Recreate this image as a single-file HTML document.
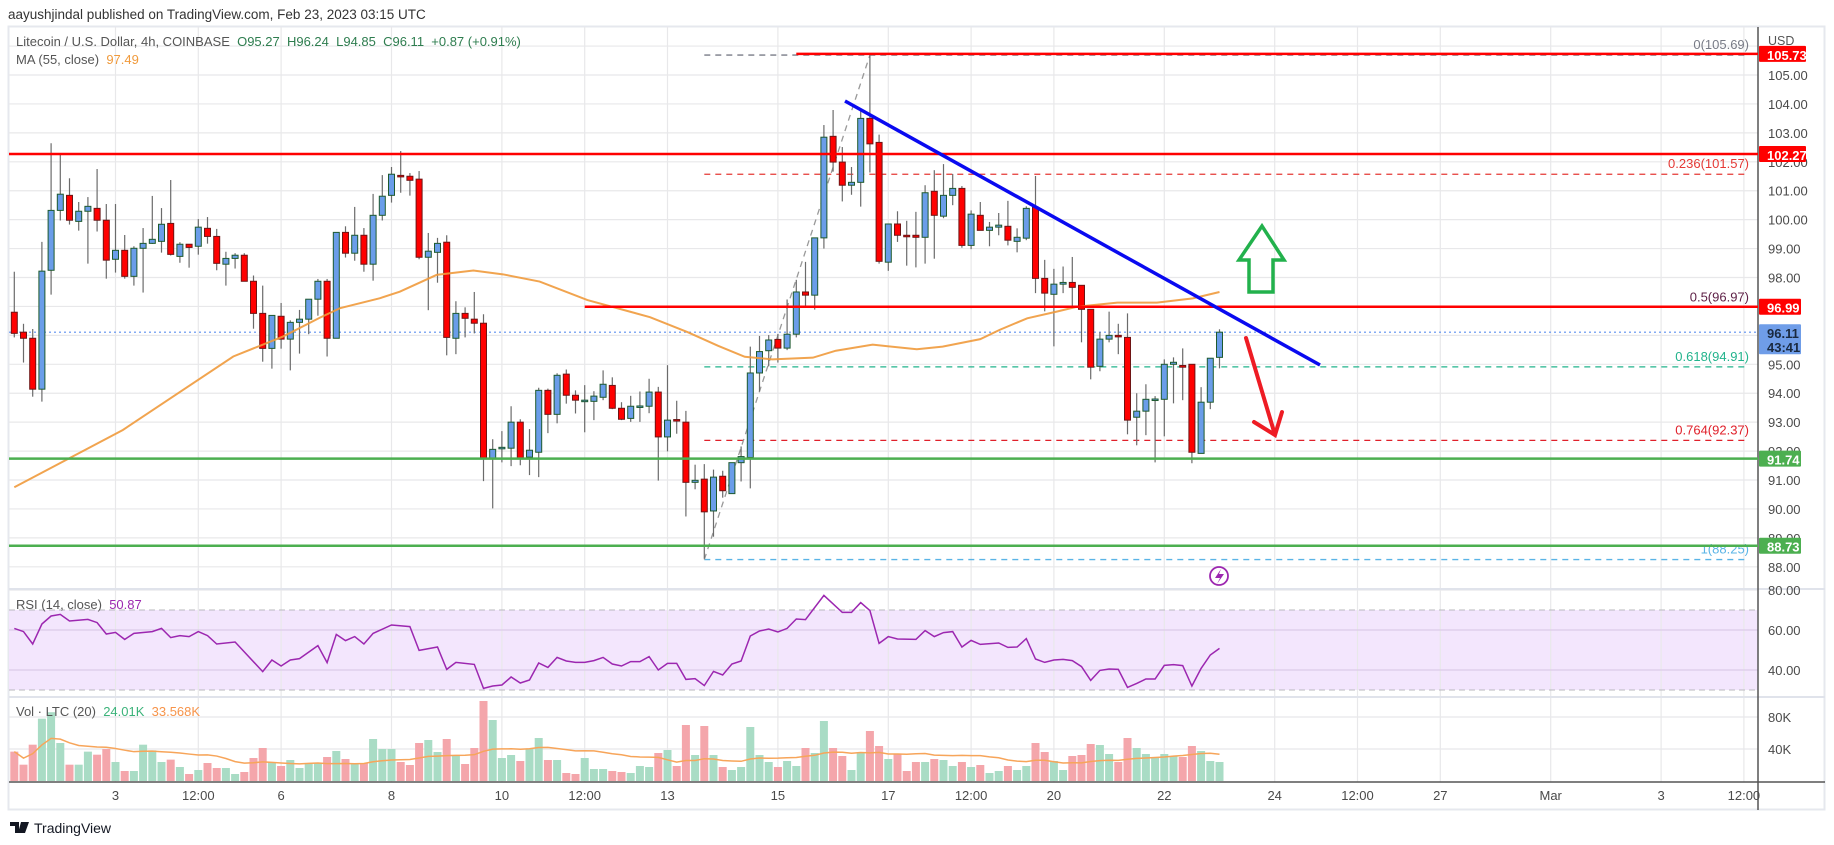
<!DOCTYPE html>
<html><head><meta charset="utf-8"><style>
html,body{margin:0;padding:0;background:#fff;width:1834px;height:845px;overflow:hidden}
svg{display:block;font-family:"Liberation Sans",sans-serif}
</style></head><body>
<svg id="chart" width="1834" height="845" viewBox="0 0 1834 845"></svg>
<script>
// ---- data ----
const opens=[96.80,96.11,95.90,94.14,98.25,100.32,100.84,99.94,100.29,100.39,99.98,98.63,98.94,98.04,99.01,99.18,99.25,99.87,98.73,99.15,99.08,99.70,99.42,98.46,98.66,98.77,97.87,96.76,95.55,96.66,95.87,96.45,96.56,97.25,97.87,95.90,99.56,98.84,99.46,98.46,100.15,100.84,101.53,101.50,101.40,98.70,98.87,99.22,95.90,96.76,96.56,96.42,91.75,92.10,92.10,93.00,91.79,91.96,94.10,93.27,94.66,93.93,93.72,93.72,93.86,94.27,93.48,93.13,93.53,93.55,94.04,92.49,93.09,93.00,90.92,91.03,89.93,91.13,90.53,91.60,91.78,94.70,95.47,95.86,95.56,96.04,97.50,97.39,99.37,102.88,101.99,101.19,101.29,103.50,102.67,98.53,99.85,99.46,99.46,99.39,100.98,100.12,100.84,101.08,99.11,100.15,99.63,99.74,99.77,99.25,99.36,100.43,97.97,97.42,97.77,97.83,97.73,96.90,94.93,95.87,96.00,95.93,93.17,93.38,93.79,93.79,95.00,94.96,95.00,91.92,93.69,95.24];
const highs=[98.20,96.40,96.22,99.23,102.64,102.24,101.43,100.61,100.78,101.75,100.54,100.54,99.47,99.08,99.71,100.82,100.40,101.37,99.22,99.15,100.02,100.09,99.68,98.89,98.84,98.84,98.07,97.72,96.69,97.12,96.52,96.88,97.25,97.95,97.95,99.56,99.77,100.44,99.71,100.89,101.54,101.82,102.37,101.61,101.68,99.54,99.37,99.46,97.18,96.97,97.50,96.73,92.41,92.69,93.55,93.10,92.76,94.19,94.16,94.69,94.82,94.10,94.28,94.07,94.79,94.55,93.69,93.91,94.06,94.50,94.22,94.97,93.74,93.39,91.53,91.55,91.36,91.32,91.60,92.16,95.61,95.98,96.01,96.05,97.24,97.92,98.54,99.37,103.27,103.79,102.51,101.82,103.76,105.68,102.94,99.85,100.29,99.96,100.27,101.19,101.71,101.92,101.58,101.16,100.32,100.61,99.92,100.23,100.65,99.70,100.46,101.51,98.61,98.30,98.38,98.71,97.73,96.90,96.11,96.82,96.40,96.76,94.00,94.31,93.90,95.17,95.24,95.55,95.00,94.21,95.21,96.21];
const lows=[95.93,95.06,93.88,93.71,97.41,99.97,99.83,99.62,98.48,99.59,97.96,98.17,97.96,97.72,97.48,99.16,98.86,98.76,98.51,98.34,98.79,99.17,98.25,97.72,98.31,97.87,96.23,95.09,94.85,95.54,94.79,95.37,96.04,96.68,95.27,95.90,98.69,98.58,98.20,97.89,99.97,100.59,100.93,100.83,98.63,96.87,97.82,95.31,95.35,95.93,96.07,90.96,90.02,91.61,91.48,91.51,91.17,91.10,92.62,92.96,93.64,93.30,92.65,93.07,93.76,93.45,93.07,93.01,93.01,93.31,90.98,91.99,92.60,89.74,90.68,88.28,89.04,90.39,90.53,90.95,90.71,94.06,94.93,95.06,95.49,95.93,96.98,96.89,99.00,101.66,100.63,100.86,100.45,101.63,98.48,98.23,99.23,98.41,98.35,98.48,98.65,100.05,100.50,99.03,98.98,99.63,99.08,99.46,99.11,98.87,99.29,97.46,96.83,95.62,97.46,96.97,95.76,94.48,94.76,95.76,95.35,92.58,92.20,92.55,91.61,92.51,93.65,93.76,91.58,91.92,93.45,94.86];
const closes=[96.07,95.90,94.14,98.22,100.32,100.88,99.98,100.29,100.46,99.98,98.60,98.94,98.04,99.01,99.18,99.32,99.84,98.80,99.15,99.04,99.74,99.42,98.49,98.66,98.77,97.87,96.76,95.55,96.69,95.87,96.45,96.56,97.25,97.87,95.90,99.56,98.84,99.46,98.46,100.15,100.81,101.57,101.50,101.36,98.70,98.91,99.18,95.93,96.76,96.59,96.42,91.75,92.06,92.13,93.00,91.75,92.03,94.10,93.27,94.62,93.93,93.76,93.76,93.90,94.31,93.48,93.10,93.55,93.56,94.04,92.49,93.07,93.06,90.92,90.99,89.90,91.10,90.63,91.60,91.81,94.70,95.44,95.84,95.56,96.04,97.50,97.39,99.37,102.85,101.99,101.19,101.29,103.50,102.62,98.56,99.85,99.46,99.42,99.39,100.93,100.15,100.84,101.08,99.11,100.19,99.63,99.74,99.81,99.29,99.39,100.39,97.97,97.46,97.77,97.83,97.66,96.90,94.90,95.87,96.00,95.97,93.07,93.38,93.79,93.80,95.00,95.07,94.90,91.96,93.69,95.21,96.11];
const volumes=[36.7,20.4,45.4,77.9,86,47.5,20.4,20.4,36.7,32.9,40,23.75,12.5,12.5,45.4,38.3,23.75,26.7,17.5,8.75,13.75,22.5,16.25,16.25,8.75,11.25,28.75,41.25,23.75,18.75,26.25,16.25,22.5,22.5,30,37.5,27.5,22.5,22.5,52.5,40,40,23.75,20,47.5,51.25,36.25,52.5,31.25,21.25,41.25,100,76.25,28.75,32.5,25,40,53.75,26.25,26.25,10,8.75,28.75,15,15,12.5,11.25,10,18.75,17.5,35,38.75,18.75,70,32.5,68.75,32.5,17.5,13.75,17.5,67.5,32.5,23.75,17.5,25,18.75,41.25,35,75,41.25,31.25,13.75,36.25,62.5,43.75,27.5,33.75,12.5,23.75,23.75,27.5,26.25,18.75,23.75,17.5,20,10,12.5,18.75,13.75,18.75,47.5,36.25,25,13.75,31.25,32.5,46.25,45,33.75,23.75,53.75,41.25,33.75,28.75,33.75,31.25,30,43.75,37.5,25,23.75];
const maIdx=[0,11.8,23.8,29.2,33.2,35.4,39.7,41.9,45.9,49.9,53.1,57.1,62.3,66.9,69.1,73.2,76.5,79.4,82.4,86.8,89.3,93.3,98.1,100.9,105,107.1,110.1,113.3,115.5,119.9,124.2,128.1,131];
const maVal=[90.75,92.73,95.27,95.96,96.61,96.94,97.28,97.51,98.09,98.24,98.11,97.86,97.22,96.82,96.63,96.11,95.64,95.26,95.17,95.23,95.47,95.68,95.52,95.61,95.87,96.19,96.59,96.82,96.99,97.13,97.13,97.28,97.50];
const rsiIdx=[0,1,2,3,4,5,6,8,9,10,11,12,13,15,16,17,18,19,20,21,22,24,27,28,29,30,31,33,34,35,36,37,38,39,41,43,44,46,47,48,50,51,52,53,54,55,56,57,58,59,60,61,62,63,64,65,66,67,68,69,70,71,72,73,74,75,76,77,78,79,80,81,82,83,84,85,86,88,90,91,92,93,94,95,96,98,99,100,101,102,103,104,105,107,108,109,110,111,112,113,114,115,116,117,118,119,120,121,122,123,124,125,126,127,128,129,130,131];
const rsiVal=[60.8,59.2,53.0,63.0,67.0,67.8,64.5,65.3,63.7,58.0,58.8,55.3,58.3,59.2,60.8,56.2,57.2,56.7,59.2,57.2,53.0,54.0,39.2,45.0,42.0,45.0,45.7,52.2,43.7,57.8,54.7,56.7,53.0,58.3,62.5,61.7,49.8,51.5,40.3,43.8,42.8,30.8,32.0,32.5,36.5,33.5,35.0,43.5,41.3,46.3,44.5,43.8,43.8,44.7,46.3,43.0,42.0,44.2,44.2,46.7,40.0,43.3,43.3,35.3,35.7,32.2,39.3,37.5,43.0,44.5,57.0,59.5,60.5,59.0,60.8,65.5,65.2,77.3,68.8,68.8,73.7,69.7,53.3,56.7,55.5,55.3,59.7,56.7,58.7,59.2,51.5,54.8,52.8,53.5,51.3,51.5,55.7,45.5,43.8,45.0,45.3,44.7,41.7,34.8,39.8,40.5,40.3,31.3,33.3,35.5,35.5,42.3,42.7,42.2,32.0,40.8,47.5,50.8];
const priceTicks=[105,104,103,102,101,100,99,98,97,96,95,94,93,92,91,90,89,88];
const timeLabels=["3","12:00","6","8","10","12:00","13","15","17","12:00","20","22","24","12:00","27","Mar","3","12:00"];
const timeSlots=[11,20,29,41,53,62,71,83,95,104,113,125,137,146,155,167,179,188]; // candle-slot index of each label
const fibLevels=["0","0.236","0.5","0.618","0.764","1"];
const fibPrices=[105.69,101.57,96.97,94.91,92.37,88.25];
const fibColors=["#787b86","#e53935","#5d1f45","#22b38c","#e0202a","#5ab4e6"];

// ---- axes ----
const AX=1758,X0=14.3,DX=9.2;
const xI=i=>X0+i*DX;
const yP=p=>75+(105-p)*28.93;
const yR=r=>630-(r-60)*2;
const yV=v=>781-v*0.8;
const svg=document.getElementById('chart');
const NS='http://www.w3.org/2000/svg';
function mk(tag,at,parent){const e=document.createElementNS(NS,tag);for(const k in at)e.setAttribute(k,at[k]);(parent||svg).appendChild(e);return e;}
function txt(s,at,parent){const e=mk('text',at,parent);e.textContent=s;return e;}

// header
let t=txt("aayushjindal published on TradingView.com, Feb 23, 2023 03:15 UTC",{x:8,y:19,'font-size':13.5,fill:'#333'});


// frame
let fr=mk('rect',{x:8.5,y:26.5,width:1816,height:783,fill:'#fff',stroke:'#e6e8ee','stroke-width':2});



// RSI band
let band=mk('rect',{x:9,y:yR(70),width:AX-9,height:yR(30)-yR(70),fill:'#f3e6fd'});



// grid
const grid=mk('g',{stroke:'#e8e8ea','stroke-width':1.2});


for(let p=88;p<=106;p++){mk('line',{x1:9,x2:AX,y1:yP(p),y2:yP(p)},grid);}
timeSlots.forEach(s=>{mk('line',{x1:xI(s),x2:xI(s),y1:27,y2:782},grid);});
[80,60,40].forEach(r=>mk('line',{x1:9,x2:AX,y1:yR(r),y2:yR(r),stroke:r==80?'#e8e8ea':'#dccbe8'},grid));
[80,40].forEach(v=>mk('line',{x1:9,x2:AX,y1:yV(v),y2:yV(v)},grid));
[70,30].forEach(r=>mk('line',{x1:9,x2:AX,y1:yR(r),y2:yR(r),stroke:'#b8b8be','stroke-dasharray':'6 4'},svg));
// pane separators
mk('line',{x1:9,x2:1825,y1:589,y2:589,stroke:'#e0e3eb','stroke-width':2});
mk('line',{x1:9,x2:1825,y1:697,y2:697,stroke:'#e0e3eb','stroke-width':2});
mk('line',{x1:9,x2:1825,y1:782,y2:782,stroke:'#555','stroke-width':1.5});
let axl=mk('line',{x1:AX,x2:AX,y1:27,y2:810,stroke:'#555','stroke-width':1.5});



// price ticks
const pt=mk('g',{'font-size':13,fill:'#4a4a4a'});


priceTicks.forEach(p=>txt(p.toFixed(2),{x:1768,y:yP(p)+5},pt));
txt("USD",{x:1768,y:45,'font-size':12.5,fill:'#555'});
const rt=mk('g',{'font-size':13,fill:'#4a4a4a'});


["80.00","60.00","40.00"].forEach((s,i)=>txt(s,{x:1768,y:[80,60,40].map(yR)[i]+5},rt));
txt("80K",{x:1768,y:yV(80)+5,'font-size':13,fill:'#4a4a4a'});
txt("40K",{x:1768,y:yV(40)+5,'font-size':13,fill:'#4a4a4a'});
// time ticks
const tt=mk('g',{'font-size':13,fill:'#4a4a4a','text-anchor':'middle'});


timeLabels.forEach((s,i)=>txt(s,{x:xI(timeSlots[i]),y:800},tt));

// volumes
const vg=mk('g',{});


volumes.forEach((v,i)=>{const up=closes[i]>=opens[i];
 const r=mk('rect',{x:xI(i)-4,y:yV(v),width:8,height:781-yV(v),fill:up?'#a9dcc5':'#f4a6ab'},vg);
 
 });
// vol MA
let vp=[];volumes.forEach((v,i)=>{const s=volumes.slice(Math.max(0,i-19),i+1);const m=s.reduce((a,b)=>a+b,0)/s.length;vp.push(xI(i)+','+yV(m));});
let vma=mk('polyline',{points:vp.join(' '),fill:'none',stroke:'#f7a55a','stroke-width':1.5});



// RSI
let rl=mk('polyline',{points:rsiIdx.map((k,i)=>xI(k)+','+yR(rsiVal[i])).join(' '),fill:'none',stroke:'#9c27b0','stroke-width':1.5});



// level lines
function hl(p,x1,col,w,name,dash){const l=mk('line',{x1:x1,x2:AX,y1:yP(p),y2:yP(p),stroke:col,'stroke-width':w});if(dash)l.setAttribute('stroke-dasharray',dash);return l;}
// fib
const fg=mk('g',{});


fibPrices.forEach((p,i)=>{
 mk('line',{x1:xI(75),x2:1749,y1:yP(p),y2:yP(p),stroke:fibColors[i],'stroke-width':1.3,'stroke-dasharray':'6 5'},fg);
 txt(fibLevels[i]+"("+p.toFixed(2)+")",{x:1749,y:yP(p)-6,'font-size':13,fill:fibColors[i],'text-anchor':'end'},fg);});
mk('line',{x1:xI(75),y1:yP(88.25),x2:xI(93),y2:yP(105.69),stroke:'#999','stroke-width':1.3,'stroke-dasharray':'6 5'},fg);

// current price dotted
let cp=mk('line',{x1:9,x2:AX,y1:yP(96.11),y2:yP(96.11),stroke:'#5b8ff0','stroke-width':1.2,'stroke-dasharray':'2 3'});



// candles
const cg=mk('g',{});


opens.forEach((o,i)=>{const c=closes[i],up=c>=o,x=xI(i);
 const g=mk('g',{},cg);
 
 
 mk('line',{x1:x,x2:x,y1:yP(highs[i]),y2:yP(lows[i]),stroke:'#6b6b6b','stroke-width':1.2},g);
 const yt=yP(Math.max(o,c)),yb=yP(Math.min(o,c));
 mk('rect',{x:x-3,y:yt,width:6,height:Math.max(1.5,yb-yt),fill:up?'#6a9de9':'#ff0000',stroke:up?'#1e5a2e':'#6e1414','stroke-width':1},g);});

// MA55
let ma=mk('polyline',{points:maIdx.map((k,i)=>xI(k)+','+yP(maVal[i])).join(' '),fill:'none',stroke:'#f09a3c','stroke-width':2,opacity:0.9});



hl(102.27,9,'#ff0000',2.5,'resistance-102-line');
hl(105.73,xI(85),'#ff0000',2.5,'resistance-105-line');
hl(96.99,xI(62),'#ff0000',2.5,'resistance-97-line');
hl(91.74,9,'#4caf50',2.5,'support-91-line');
hl(88.73,9,'#4caf50',2.5,'support-88-line');

// trendline
let tl=mk('line',{x1:845,y1:101,x2:1320,y2:365,stroke:'#0a0af0','stroke-width':3.5});


// arrows
let ga=mk('polygon',{points:'1262,226 1239,260 1249,260 1249,292 1273,292 1273,260 1284,260',fill:'none',stroke:'#22b14c','stroke-width':3.5,'stroke-linejoin':'miter'});


let ra=mk('path',{d:'M1246,338 L1275,435 M1254,422 L1275,435 L1282,412',fill:'none',stroke:'#ee1c24','stroke-width':4,'stroke-linecap':'round'});


// lightning
let lc=mk('circle',{cx:1219,cy:576,r:9,fill:'#fff',stroke:'#9c27b0','stroke-width':1.8});


mk('path',{d:'M1221,569 L1215,578 L1220,578 L1217,584 L1224,574 L1219,574 Z',fill:'#9c27b0'});

// axis boxes
function box(y,h,w,fill,lines,col,name){const g=mk('g',{});
 mk('rect',{x:1759,y:y-h/2,width:w,height:h,fill:fill,rx:1},g);
 lines.forEach((s,i)=>txt(s,{x:1767,y:y-h/2+14+i*14,'font-size':13,'font-weight':'bold',fill:col},g));}
box(yP(105.73),16,47,'#ff0000',['105.73'],'#fff','label-105-73');
box(yP(102.27),16,47,'#ff0000',['102.27'],'#fff','label-102-27');
box(yP(96.99),16,42,'#ff0000',['96.99'],'#fff','label-96-99');
box(yP(96.11)+7,30,42,'#6f9de8',['96.11','43:41'],'#1a2a40','label-last-price');
box(yP(91.74),16,42,'#4caf50',['91.74'],'#fff','label-91-74');
box(yP(88.73),16,42,'#4caf50',['88.73'],'#fff','label-88-73');

// legends
const lg=mk('g',{'font-size':13});


const l1=txt('',{x:16,y:46},lg);
[['Litecoin / U.S. Dollar, 4h, COINBASE  ','#555'],['O95.27  H96.24  L94.85  C96.11  +0.87 (+0.91%)','#2e7d4f']].forEach(a=>{const s=document.createElementNS(NS,'tspan');s.setAttribute('fill',a[1]);s.textContent=a[0];l1.appendChild(s);});
l1.setAttribute('style','white-space:pre');
const l2=txt('',{x:16,y:64},lg);
[['MA (55, close)  ','#555'],['97.49','#f09a3c']].forEach(a=>{const s=document.createElementNS(NS,'tspan');s.setAttribute('fill',a[1]);s.textContent=a[0];l2.appendChild(s);});
l2.setAttribute('style','white-space:pre');
const l3=txt('',{x:16,y:609,'font-size':13,style:'white-space:pre'});


[['RSI (14, close)  ','#555'],['50.87','#9c27b0']].forEach(a=>{const s=document.createElementNS(NS,'tspan');s.setAttribute('fill',a[1]);s.textContent=a[0];l3.appendChild(s);});
const l4=txt('',{x:16,y:716,'font-size':13,style:'white-space:pre'});


[['Vol · LTC (20)  ','#555'],['24.01K  ','#3cb37a'],['33.568K','#f7944a']].forEach(a=>{const s=document.createElementNS(NS,'tspan');s.setAttribute('fill',a[1]);s.textContent=a[0];l4.appendChild(s);});

// footer logo
const fl=mk('g',{});


mk('path',{d:'M10,822 h9 v11 h-4 v-7 h-5 z M21,822 h4 l-4 11 h-3 z M24,822 h5 l-4 11 h-4 z',fill:'#131722'},fl);
txt('TradingView',{x:34,y:833,'font-size':14,fill:'#131722'},fl);
</script>
</body></html>
